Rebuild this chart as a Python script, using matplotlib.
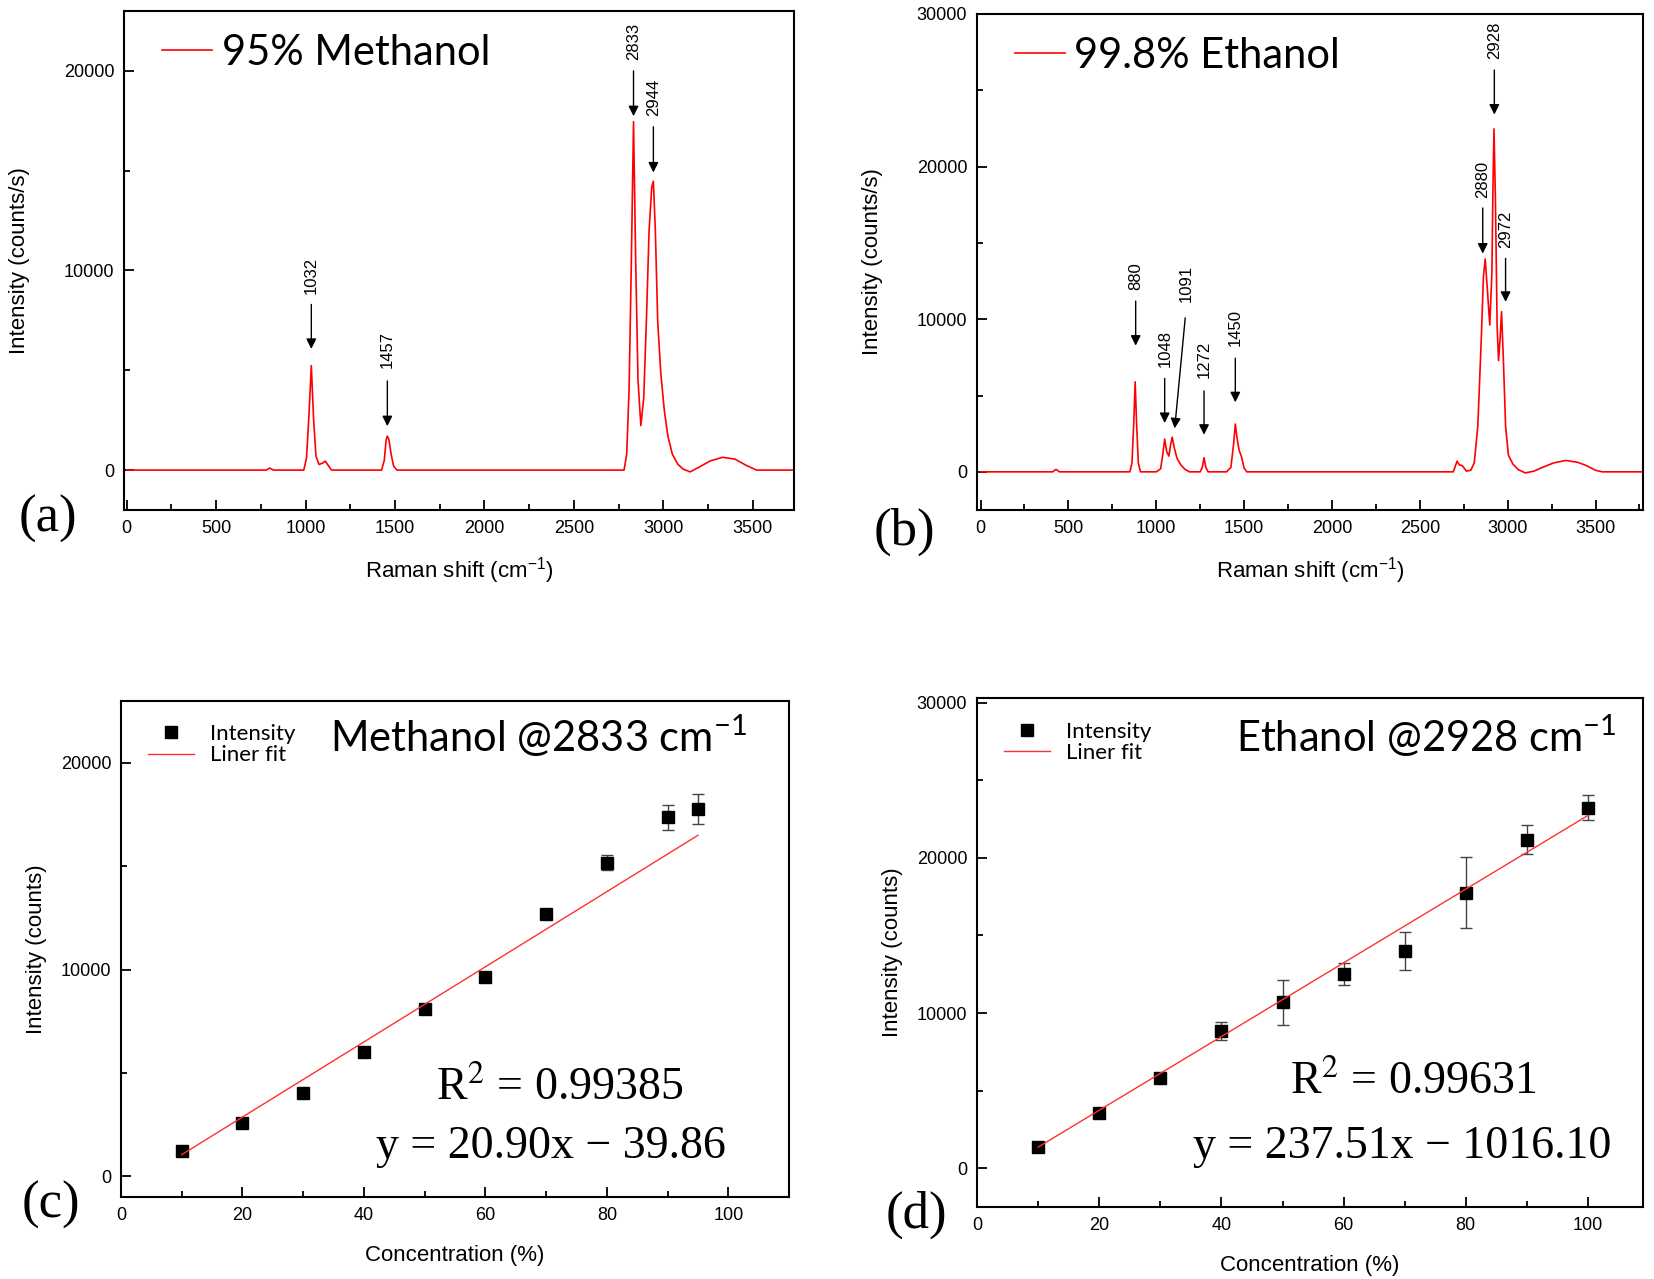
import matplotlib
matplotlib.use("Agg")
import matplotlib.pyplot as plt
from matplotlib.ticker import MultipleLocator

plt.rcParams['font.family'] = ['Liberation Sans', 'DejaVu Sans']
plt.rcParams['mathtext.fontset'] = 'custom'
plt.rcParams['mathtext.rm'] = 'Liberation Sans'
plt.rcParams['mathtext.it'] = 'Liberation Sans:italic'

W, H = 1654, 1279

# --- (a) 95% methanol Raman spectrum ---
shift_a = [0, 200, 400, 600, 780, 800, 820, 990, 1005, 1018, 1032, 1045, 1058,
           1075, 1095, 1110, 1125, 1145, 1300, 1425, 1440, 1450, 1457, 1465,
           1478, 1492, 1510, 1530, 1700, 2000, 2400, 2780, 2795, 2808, 2820,
           2833, 2845, 2858, 2874, 2890, 2905, 2920, 2935, 2944, 2955, 2968,
           2985, 3005, 3025, 3050, 3080, 3110, 3150, 3200, 3260, 3330, 3400,
           3460, 3520, 3600, 3720]
inten_a = [0, 0, 0, 0, 0, 100, 0, 0, 600, 2600, 5230, 2500, 700,
           280, 350, 450, 250, 0, 0, 0, 500, 1500, 1700, 1550,
           800, 200, 0, 0, 0, 0, 0, 0, 800, 4000, 10000,
           17450, 10500, 4500, 2230, 3600, 7500, 12000, 14200, 14470, 12000, 7500,
           4900, 3000, 1700, 800, 300, 50, -90, 150, 450, 640, 550,
           250, 0, 0, 0]
peaks_a = [1032, 1457, 2833, 2944]

# --- (b) 99.8% ethanol Raman spectrum ---
shift_b = [0, 300, 410, 430, 450, 600, 850, 862, 872, 880, 888, 898, 910, 1000,
           1025, 1038, 1048, 1060, 1072, 1082, 1091, 1102, 1118, 1140, 1165,
           1190, 1250, 1262, 1272, 1282, 1295, 1400, 1425, 1440, 1450, 1460,
           1472, 1485, 1500, 1515, 1600, 2000, 2500, 2690, 2700, 2712, 2725,
           2740, 2752, 2765, 2790, 2810, 2830, 2850, 2862, 2872, 2884, 2898,
           2910, 2916, 2922, 2930, 2940, 2948, 2956, 2965, 2975, 2988, 3004,
           3030, 3060, 3100, 3150, 3200, 3260, 3330, 3400, 3450, 3500, 3540,
           3600, 3770]
inten_b = [0, 0, 0, 160, 0, 0, 0, 600, 3200, 5900, 3200, 600, 0, 0,
           200, 1200, 2150, 1300, 1030, 1800, 2270, 1600, 900, 450, 150,
           0, 0, 300, 930, 300, 0, 0, 300, 1800, 3130, 2200,
           1400, 1000, 250, 0, 0, 0, 0, 0, 300, 700, 450,
           420, 250, 50, 100, 600, 3000, 8800, 12800, 13950, 12000, 9620,
           13000, 18500, 22470, 18000, 9500, 7290, 8600, 10490, 7500, 3000, 1100,
           500, 150, -70, 50, 300, 580, 750, 620, 400, 100, 0,
           0, 0]
peaks_b = [880, 1048, 1091, 1272, 1450, 2880, 2928, 2972]

# --- (c) methanol calibration @2833 cm-1 ---
conc_c = [10, 20, 30, 40, 50, 60, 70, 80, 90, 95]
int_c = [1240, 2600, 4040, 6010, 8100, 9650, 12700, 15170, 17370, 17770]
err_c = [100, 120, 100, 100, 120, 200, 130, 370, 590, 730]
fit_x_c = [10, 95]
fit_y_c = [1050, 16500]

# --- (d) ethanol calibration @2928 cm-1 ---
conc_d = [10, 20, 30, 40, 50, 60, 70, 80, 90, 100]
int_d = [1360, 3540, 5820, 8860, 10690, 12520, 13990, 17760, 21170, 23240]
err_d = [100, 150, 290, 590, 1430, 720, 1200, 2290, 920, 820]
fit_x_d = [10, 100]
fit_y_d = [1359, 22735]


def frac(x0, y0, x1, y1):
    return [x0 / W, 1 - y1 / H, (x1 - x0) / W, (y1 - y0) / H]


def style(ax, xmaj, xmin, ymaj, ymin):
    for s in ['top', 'right', 'bottom', 'left']:
        ax.spines[s].set_linewidth(1.5)
    ax.xaxis.set_major_locator(MultipleLocator(xmaj))
    ax.xaxis.set_minor_locator(MultipleLocator(xmin))
    ax.yaxis.set_major_locator(MultipleLocator(ymaj))
    ax.yaxis.set_minor_locator(MultipleLocator(ymin))
    ax.tick_params(which='both', direction='in', top=False, right=False, width=1.3)
    ax.tick_params(which='major', length=7, labelsize=13, pad=7)
    ax.tick_params(which='minor', length=4.5)


fig = plt.figure(figsize=(W / 100, H / 100), dpi=100)

ax_a = fig.add_axes(frac(124, 11, 794, 510))
ax_b = fig.add_axes(frac(977, 14, 1643, 510))
ax_c = fig.add_axes(frac(121, 701, 789, 1197))
ax_d = fig.add_axes(frac(977, 698, 1643, 1207))

# spectra
ax_a.plot(shift_a, inten_a, color='red', lw=1.2, label='95% Methanol')
ax_a.set_xlim(-15, 3730)
ax_a.set_ylim(-2000, 23000)
style(ax_a, 500, 250, 10000, 5000)

ax_b.plot(shift_b, inten_b, color='red', lw=1.2, label='99.8% Ethanol')
ax_b.set_xlim(-20, 3770)
ax_b.set_ylim(-2500, 30000)
style(ax_b, 500, 250, 10000, 5000)

for ax in (ax_a, ax_b):
    ax.set_xlabel('Raman shift (cm$^{-1}$)', fontsize=16, labelpad=13)
    ax.set_ylabel('Intensity (counts/s)', fontsize=16, labelpad=24)
    ax.legend(loc='upper left', bbox_to_anchor=(0.02, 1.005), frameon=False,
              handlelength=1.2, handletextpad=0.22, borderaxespad=0.2,
              prop={'family': 'Lato', 'size': 30})

# arrow annotations: (arrow x, tail y, tip y, text x, text bottom y)
ann_a = [(1032, 8300, 6070, 1032, 8840),
         (1457, 4465, 2200, 1457, 5090),
         (2833, 20000, 17730, 2833, 20540),
         (2944, 17200, 14910, 2944, 17730)]
ann_b = [(883, 11190, 8270, 883, 11910),
         (1048, 6120, 3200, 1050, 6870),
         (1105, 10090, 2850, 1171, 11140),
         (1272, 5300, 2430, 1274, 6170),
         (1450, 7450, 4560, 1450, 8270),
         (2858, 17290, 14300, 2856, 17960),
         (2924, 26330, 23410, 2924, 27070),
         (2988, 13990, 11140, 2990, 14650)]

for ax, peaks, ann in ((ax_a, peaks_a, ann_a), (ax_b, peaks_b, ann_b)):
    for p, (xa, tail, tip, xt, yt) in zip(peaks, ann):
        tail_x = xa if p != 1091 else 1165
        ax.annotate('', xy=(xa, tip), xytext=(tail_x, tail),
                    arrowprops=dict(arrowstyle='-|>', color='black', lw=1.0,
                                    mutation_scale=15, shrinkA=0, shrinkB=0))
        ax.text(xt, yt, str(p), rotation=90, ha='center', va='bottom', fontsize=12)

# calibration plots
for ax, cx, cy, ce, fx, fy in ((ax_c, conc_c, int_c, err_c, fit_x_c, fit_y_c),
                               (ax_d, conc_d, int_d, err_d, fit_x_d, fit_y_d)):
    ax.errorbar(cx, cy, yerr=ce, fmt='none', ecolor='#444444', elinewidth=1.0,
                capsize=4, capthick=1.0)
    ax.plot(cx, cy, 's', color='black', ms=9, label='Intensity')
    ax.plot(fx, fy, color='#ff3030', lw=1.0, label='Liner fit')
    ax.set_xlabel('Concentration (%)', fontsize=16, labelpad=15)
    ax.set_ylabel('Intensity (counts)', fontsize=16, labelpad=10)
    ax.legend(loc='upper left', bbox_to_anchor=(0.02, 0.98), frameon=False,
              handlelength=2.1, handletextpad=0.7, labelspacing=0.05,
              borderaxespad=0.2, prop={'family': 'Lato', 'size': 16})

ax_c.set_xlim(0, 110)
ax_c.set_ylim(-1000, 23000)
style(ax_c, 20, 10, 10000, 5000)
ax_d.set_xlim(0, 109)
ax_d.set_ylim(-2500, 30300)
style(ax_d, 20, 10, 10000, 5000)

# headers and fit statistics
fig.text(330 / W, 1 - 752 / H, 'Methanol @2833 cm$^{\\mathregular{-1}}$', fontsize=30,
         family='Lato', ha='left', va='baseline')
fig.text(1236 / W, 1 - 752 / H, 'Ethanol @2928 cm$^{\\mathregular{-1}}$', fontsize=30,
         family='Lato', ha='left', va='baseline')

fig.text(560 / W, 1 - 1100 / H, 'R$^2$ = 0.99385', fontsize=33,
         family='Liberation Serif', ha='center', va='baseline', math_fontfamily='stix')
fig.text(551 / W, 1 - 1158 / H, 'y = 20.90x \u2212 39.86', fontsize=33,
         family='Liberation Serif', ha='center', va='baseline')
fig.text(1413 / W, 1 - 1094 / H, 'R$^2$ = 0.99631', fontsize=33,
         family='Liberation Serif', ha='center', va='baseline', math_fontfamily='stix')
fig.text(1402 / W, 1 - 1158 / H, 'y = 237.51x \u2212 1016.10', fontsize=33,
         family='Liberation Serif', ha='center', va='baseline')

# panel letters
for lab, x, y in (('(a)', 48, 519), ('(b)', 904, 532), ('(c)', 51, 1205), ('(d)', 916, 1215)):
    fig.text(x / W, 1 - y / H, lab, fontsize=38, family='Liberation Serif',
             ha='center', va='center')

fig.savefig('out.png', dpi=100)
